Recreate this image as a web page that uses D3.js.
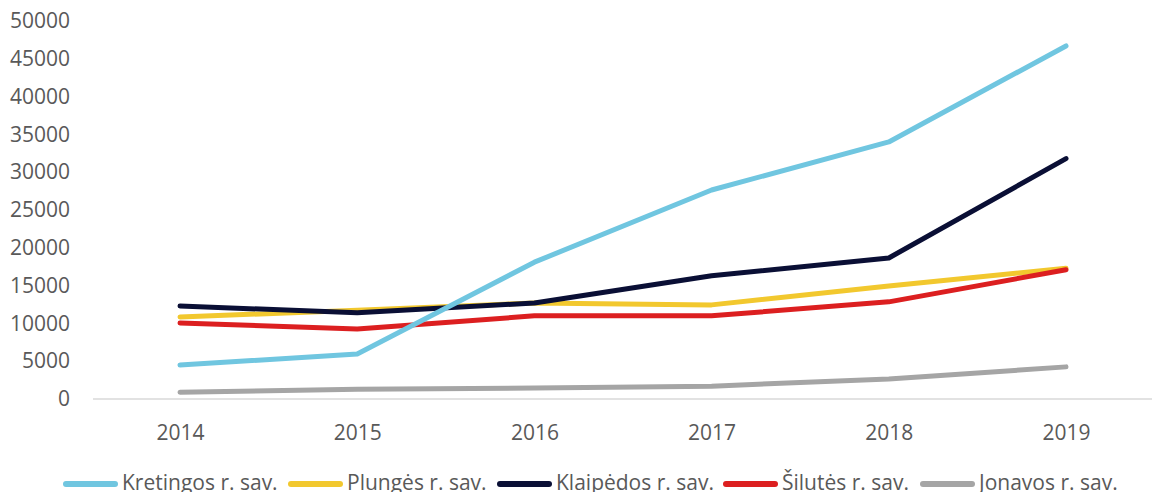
<!DOCTYPE html>
<html>
<head>
<meta charset="utf-8">
<script src="https://d3js.org/d3.v7.min.js"></script>
<style>
  body { margin: 0; background: #fff; }
  text { font-family: "Open Sans", "Noto Sans", sans-serif; fill: #595959; }
</style>
</head>
<body>
<div id="chart"></div>
<script>
var years = ["2014", "2015", "2016", "2017", "2018", "2019"];
var yTicks = [0, 5000, 10000, 15000, 20000, 25000, 30000, 35000, 40000, 45000, 50000];

var names = ["Kretingos r. sav.", "Plungės r. sav.", "Klaipėdos r. sav.", "Šilutės r. sav.", "Jonavos r. sav."];
var colors = ["#70C6E0", "#F2C82E", "#0A0F35", "#DC1F20", "#A5A5A5"];

var kretingos = [4500, 5950, 18100, 27650, 34000, 46700];
var plunges   = [10850, 11750, 12700, 12450, 14950, 17300];
var klaipedos = [12300, 11400, 12700, 16300, 18650, 31800];
var silutes   = [10050, 9250, 11000, 11000, 12850, 17100];
var jonavos   = [900, 1300, 1450, 1700, 2650, 4250];

var seriesValues = [kretingos, plunges, klaipedos, silutes, jonavos];
// order in which lines are painted (last on top)
var drawOrder = [4, 1, 3, 2, 0];

var width = 1152, height = 492;

var svg = d3.select("#chart").append("svg")
    .attr("width", width)
    .attr("height", height);

var x = d3.scalePoint()
    .domain(years)
    .range([180, 1066]);

var y = d3.scaleLinear()
    .domain([0, 50000])
    .range([399, 21]);

// y labels
svg.append("g")
    .attr("transform", "translate(70,0)")
    .call(d3.axisLeft(y).tickValues(yTicks).tickSize(0).tickPadding(0).tickFormat(d3.format("d")))
    .call(function(g) { g.select(".domain").remove(); })
    .selectAll("text")
    .style("font-size", "21px")
    .attr("fill", "#595959");

// x axis baseline
svg.append("line")
    .attr("x1", 93).attr("x2", 1152)
    .attr("y1", y(0)).attr("y2", y(0))
    .attr("stroke", "#D9D9D9")
    .attr("stroke-width", 1.5);

svg.append("g")
    .attr("transform", "translate(0,399)")
    .call(d3.axisBottom(x).tickSize(0).tickPadding(26))
    .call(function(g) { g.select(".domain").remove(); })
    .selectAll("text")
    .style("font-size", "21px")
    .attr("fill", "#595959");

var line = d3.line()
    .x(function(d, i) { return x(years[i]); })
    .y(function(d) { return y(d); });

drawOrder.forEach(function(k) {
  svg.append("path")
     .datum(seriesValues[k])
     .attr("d", line)
     .attr("fill", "none")
     .attr("stroke", colors[k])
     .attr("stroke-width", 5)
     .attr("stroke-linecap", "round")
     .attr("stroke-linejoin", "round");
});

// legend
var legendX = [63, 288, 497, 723, 920];
var legend = svg.append("g");
names.forEach(function(n, i) {
  legend.append("line")
    .attr("x1", legendX[i] + 3).attr("x2", legendX[i] + 52)
    .attr("y1", 484).attr("y2", 484)
    .attr("stroke", colors[i])
    .attr("stroke-width", 6)
    .attr("stroke-linecap", "round");
  legend.append("text")
    .attr("x", legendX[i] + 59)
    .attr("y", 490)
    .style("font-size", "21px")
    .text(n);
});
</script>
</body>
</html>
